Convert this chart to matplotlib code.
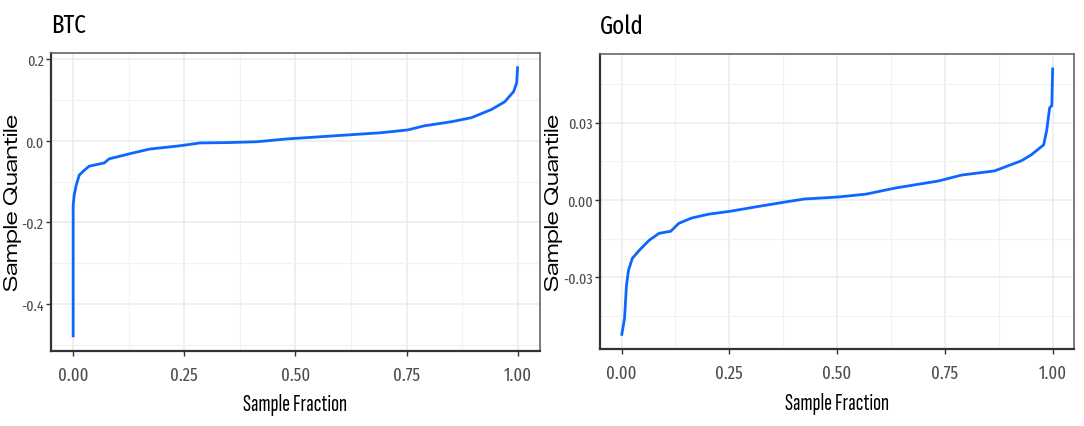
import matplotlib.pyplot as plt
from matplotlib.ticker import MultipleLocator, FixedLocator
import numpy as np

# quantile curves (sample fraction vs sample quantile)
btc_frac = [0.0, 0.0, 0.0023, 0.0068, 0.0136, 0.025, 0.036, 0.070, 0.081, 0.133, 0.172,
            0.240, 0.285, 0.353, 0.414, 0.482, 0.511, 0.692, 0.753, 0.790, 0.851,
            0.896, 0.941, 0.971, 0.991, 0.998, 1.0]
btc_q = [-0.482, -0.158, -0.133, -0.109, -0.084, -0.072, -0.062, -0.054, -0.044, -0.030, -0.020,
         -0.012, -0.005, -0.004, -0.002, 0.005, 0.007, 0.020, 0.027, 0.037, 0.047,
         0.057, 0.077, 0.096, 0.121, 0.143, 0.183]

gold_frac = [0.0, 0.0069, 0.0114, 0.016, 0.025, 0.041, 0.064, 0.087, 0.114, 0.133, 0.162,
             0.201, 0.254, 0.309, 0.378, 0.423, 0.503, 0.567, 0.636, 0.735, 0.789,
             0.865, 0.927, 0.950, 0.979, 0.986, 0.993, 0.998, 1.0]
gold_q = [-0.0526, -0.0460, -0.0331, -0.0273, -0.0226, -0.0195, -0.0156, -0.0129, -0.0121, -0.0090, -0.0070,
          -0.0055, -0.0043, -0.0027, -0.0008, 0.0004, 0.0012, 0.0023, 0.0047, 0.0074, 0.0097,
          0.0113, 0.0152, 0.0175, 0.0214, 0.0269, 0.0358, 0.0366, 0.0514]

x_ticks = [0.0, 0.25, 0.5, 0.75, 1.0]
x_labels = ['0.00', '0.25', '0.50', '0.75', '1.00']
btc_yticks = [-0.4, -0.2, 0.0, 0.2]
btc_ylabels = ['-0.4', '-0.2', '0.0', '0.2']
gold_yticks = [-0.03, 0.0, 0.03]
gold_ylabels = ['-0.03', '0.00', '0.03']

narrow = ['Fira Sans Extra Condensed', 'Archivo Narrow', 'DejaVu Sans']
xnarrow = ['Sofia Sans Extra Condensed', 'Fira Sans Extra Condensed', 'DejaVu Sans']
wide = ['Zalando Sans Expanded', 'Encode Sans Expanded', 'DejaVu Sans']

fig = plt.figure(figsize=(10.84, 4.27), dpi=100)
ax1 = fig.add_axes([0.047, 0.176, 0.451, 0.698])
ax2 = fig.add_axes([0.5535, 0.180, 0.4375, 0.691])


def style(ax, frac, q, yticks, ylabels, yminor, title, ylab_x):
    ax.plot(frac, q, color='#0F66FF', lw=2.0, solid_capstyle='butt')
    lo, hi = min(q), max(q)
    pad = (hi - lo) * 0.05
    ax.set_ylim(lo - pad, hi + pad)
    ax.set_xlim(-0.05, 1.05)
    ax.xaxis.set_major_locator(FixedLocator(x_ticks))
    ax.set_xticklabels(x_labels)
    ax.xaxis.set_minor_locator(MultipleLocator(0.125))
    ax.yaxis.set_major_locator(FixedLocator(yticks))
    ax.set_yticklabels(ylabels)
    ax.yaxis.set_minor_locator(MultipleLocator(yminor))
    ax.grid(which='major', color='#EBEBEB', lw=1.1)
    ax.grid(which='minor', color='#F2F2F2', lw=0.8)
    ax.set_axisbelow(True)
    ax.tick_params(which='minor', length=0)
    ax.tick_params(which='major', length=3.8, width=1.0, color='#333333',
                   labelcolor='#4D4D4D')
    ax.tick_params(axis='x', pad=7, labelsize=13)
    ax.tick_params(axis='y', pad=1.5, labelsize=11)
    for lab in ax.get_xticklabels() + ax.get_yticklabels():
        lab.set_family(narrow)
    for side in ['top', 'right']:
        ax.spines[side].set_color('#666666')
        ax.spines[side].set_linewidth(1.2)
    for side in ['left', 'bottom']:
        ax.spines[side].set_color('#333333')
        ax.spines[side].set_linewidth(1.6)
    ax.set_xlabel('Sample Fraction', family=xnarrow, fontsize=17, labelpad=7)
    ax.set_ylabel('Sample Quantile', family=wide, fontsize=14)
    ax.yaxis.set_label_coords(ylab_x, 0.5)
    ax.yaxis.label.set_va('center')
    ax.set_title(title, family=narrow, fontsize=18, loc='left', pad=15)


style(ax1, btc_frac, btc_q, btc_yticks, btc_ylabels, 0.1, 'BTC', -0.078)
style(ax2, gold_frac, gold_q, gold_yticks, gold_ylabels, 0.015, 'Gold', -0.097)

fig.savefig('out.png', dpi=100)
